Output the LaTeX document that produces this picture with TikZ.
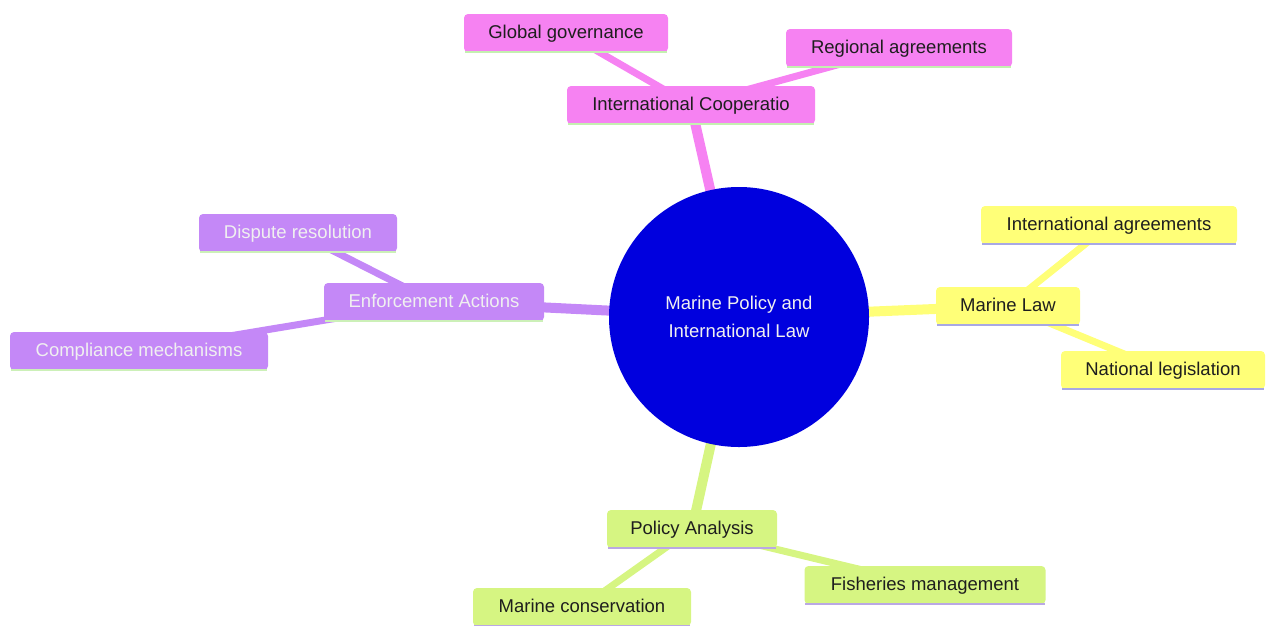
\documentclass[tikz,border=0pt]{standalone}
\usepackage{fontspec}
\setmainfont{Liberation Sans}
\usetikzlibrary{backgrounds}
\definecolor{pinkc}{RGB}{246,130,242}
\definecolor{yellowc}{RGB}{255,255,120}
\definecolor{purplec}{RGB}{196,136,247}
\definecolor{greenc}{RGB}{214,245,130}
\definecolor{bluec}{RGB}{0,0,222}
\definecolor{pinkline}{RGB}{196,240,176}
\definecolor{yellowline}{RGB}{168,168,228}
\definecolor{purpleline}{RGB}{204,240,184}
\definecolor{greenline}{RGB}{186,168,228}
\definecolor{txtdark}{RGB}{30,30,30}
\definecolor{txtlight}{RGB}{240,240,240}
\begin{document}
\begin{tikzpicture}[x=1pt,y=-1pt,
  box/.style={rectangle, rounded corners=4pt, minimum height=38pt, inner sep=0pt,
    text height=13.5pt, text depth=3.5pt,
    font=\fontsize{18.5}{22}\selectfont, text=txtdark},
  pinkbox/.style={box, fill=pinkc},
  yellowbox/.style={box, fill=yellowc},
  purplebox/.style={box, fill=purplec, text=txtlight},
  greenbox/.style={box, fill=greenc},
  rootnode/.style={circle, fill=bluec, minimum size=260pt, inner sep=0pt, align=center,
    text=txtlight, font=\fontsize{18.5}{28}\selectfont},
  mainedge/.style={line width=10pt},
  leafedge/.style={line width=7pt},
  bline/.style={line width=2.5pt}
]
\useasboundingbox (0,0) rectangle (1266,625);
\clip (0,0) rectangle (1266,625);

% root
\node[rootnode] (root) at (739,317) {Marine Policy and\\International Law};

% pink branch
\node[pinkbox, minimum width=248pt] (ic) at (691,105) {International Cooperatio};
\node[pinkbox, minimum width=204pt] (gg) at (566,33) {Global governance};
\node[pinkbox, minimum width=226pt] (ra) at (899,48) {Regional agreements};

% yellow branch
\node[yellowbox, minimum width=144pt] (ml) at (1008,306) {Marine Law};
\node[yellowbox, minimum width=256pt] (ia) at (1109,225) {International agreements};
\node[yellowbox, minimum width=204pt] (nl) at (1163,370) {National legislation};

% purple branch
\node[purplebox, minimum width=220pt] (ea) at (434,302) {Enforcement Actions};
\node[purplebox, minimum width=198pt] (dr) at (298,233) {Dispute resolution};
\node[purplebox, minimum width=258pt] (cm) at (139,351) {Compliance mechanisms};

% green branch
\node[greenbox, minimum width=170pt] (pa) at (692,529) {Policy Analysis};
\node[greenbox, minimum width=218pt] (mc) at (582,607) {Marine conservation};
\node[greenbox, minimum width=241pt] (fm) at (925,585) {Fisheries management};

% edges
\begin{pgfonlayer}{background}
  \draw[mainedge, pinkc] (root.center) -- (ic.center);
  \draw[leafedge, pinkc] (ic.center) -- (gg.center);
  \draw[leafedge, pinkc] (ic.center) -- (ra.center);
  \draw[mainedge, yellowc] (root.center) -- (ml.center);
  \draw[leafedge, yellowc] (ml.center) -- (ia.center);
  \draw[leafedge, yellowc] (ml.center) -- (nl.center);
  \draw[mainedge, purplec] (root.center) -- (ea.center);
  \draw[leafedge, purplec] (ea.center) -- (dr.center);
  \draw[leafedge, purplec] (ea.center) -- (cm.center);
  \draw[mainedge, greenc] (root.center) -- (pa.center);
  \draw[leafedge, greenc] (pa.center) -- (mc.center);
  \draw[leafedge, greenc] (pa.center) -- (fm.center);
\end{pgfonlayer}

% bottom lines
\foreach \n/\c in {ic/pinkline, gg/pinkline, ra/pinkline,
                   ml/yellowline, ia/yellowline, nl/yellowline,
                   ea/purpleline, dr/purpleline, cm/purpleline,
                   pa/greenline, mc/greenline, fm/greenline}
  \draw[bline, \c] ([xshift=1pt]\n.south west) -- ([xshift=-1pt]\n.south east);
\end{tikzpicture}
\end{document}
